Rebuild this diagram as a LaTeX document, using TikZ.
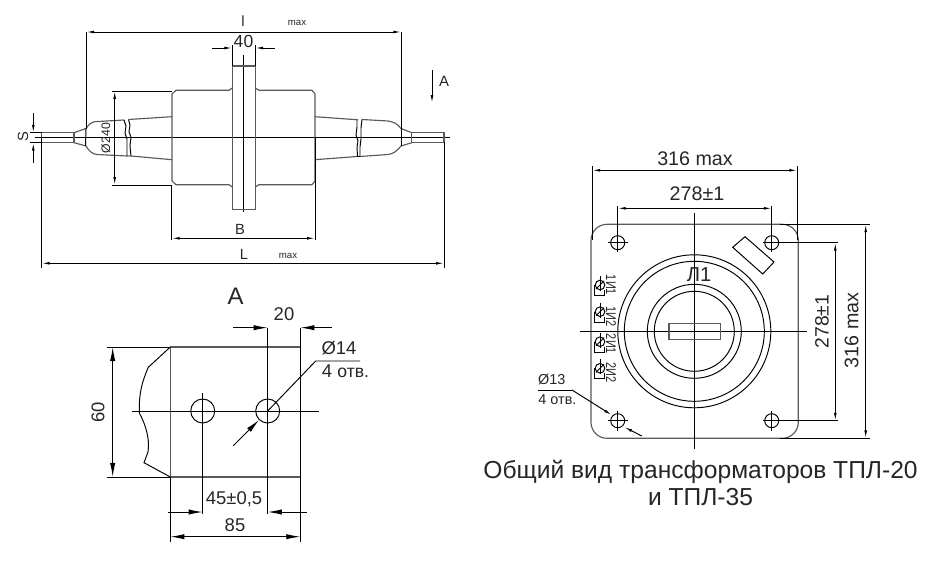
\documentclass[tikz,border=0pt]{standalone}
\usepackage{fontspec}
\setmainfont{Liberation Sans}
\usetikzlibrary{arrows.meta}
\newcommand{\fsz}[1]{\fontsize{#1}{#1}\selectfont}
\tikzset{
  thin line/.style={line width=0.55pt},
  outline/.style={line width=0.65pt,draw=black!65},
  small tip/.style={-{Latex[length=4.5pt,width=1.6pt]}},
  small both/.style={{Latex[length=4.5pt,width=1.6pt]}-{Latex[length=4.5pt,width=1.6pt]}},
  big tip/.style={-{Latex[length=8pt,width=3pt]}},
  big both/.style={{Latex[length=8pt,width=3pt]}-{Latex[length=8pt,width=3pt]}},
  lbl/.style={inner sep=0pt,text=black!85},
}
\begin{document}
\begin{tikzpicture}[x=0.02cm,y=-0.02cm,thin line]
\useasboundingbox (0,0) rectangle (935,567);

% top view
\draw (35,137) -- (450,137);
\draw (243.3,55) -- (243.3,212);
\draw[outline] (232.3,66) rectangle (255.3,209.3);
\draw[outline] (232.3,88) -- (229,90.3) -- (176,90.3) -- (172,94) -- (172,181) -- (176,184.7) -- (229,184.7) -- (232.3,187);
\draw[outline] (255.3,88) -- (259,90.3) -- (312,90.3) -- (315,94) -- (315,181) -- (312,184.7) -- (259,184.7) -- (255.3,187);
% left end
\draw[outline] (41.7,132.7) rectangle (74,142.7);
\draw[outline] (74,132.7) -- (86,128.5) .. controls (89,124) and (92,122) .. (95,121.7) -- (124,120);
\draw[outline] (74,142.7) -- (86,146) .. controls (89,151) and (92,154) .. (97,154.5) -- (127,156);
\draw (86,128.5) -- (85.5,146);
\draw (124,120) -- (126,126) -- (125,133) -- (127,139) -- (127,145) -- (127,156) -- (131,156);
\draw (128.5,119.5) -- (130,125) -- (129,132) -- (131,137) -- (130,146) -- (131,156);
\draw[outline] (128.5,119.5) -- (172,116.7);
\draw[outline] (131,156) -- (172,159.7);
% right end
\draw[outline] (411.7,132.7) rectangle (444,142.7);
\draw[outline] (411.7,132.7) -- (401,128.5) .. controls (397,123) and (393,122) .. (388,121) -- (362,119.5);
\draw[outline] (411.7,142.7) -- (401,146) .. controls (397,151) and (393,154) .. (388,154.5) -- (360,156.5);
\draw (401,128.5) -- (401,146);
\draw (357,120) -- (357,127) -- (356,135) -- (358,141) -- (357,147) -- (357.5,156.5) -- (360,156.5);
\draw (362,119.5) -- (361,128) -- (361,139) -- (360,147) -- (360,156.5);
\draw[outline] (315,116.7) -- (358,119.8);
\draw[outline] (315,159.7) -- (357,156.5);

% top view dimensions
\draw (86.3,32) -- (86.3,129);
\draw (401.3,32) -- (401.3,129);
\draw[small both] (86.3,32) -- (401.3,32);
\node[lbl,font=\fsz{8.4}] (lLabel) at (243,21.5) {l};
\node[lbl,font=\fsz{5.5}] (lMax) at (297,22.5) {max};
\draw (232.3,45) -- (232.3,66);
\draw (255.3,45) -- (255.3,66);
\draw[small tip] (212,48) -- (232.3,48);
\draw[small tip] (275,48) -- (255.3,48);
\node[lbl,font=\fsz{10}] (wFlange) at (243.5,41) {40};
\draw[small tip] (432,70) -- (432,103);
\node[lbl,font=\fsz{8.5}] (viewA) at (444,81) {A};
\draw (30,132.7) -- (42,132.7);
\draw (30,142.7) -- (42,142.7);
\draw[small tip] (33.3,113) -- (33.3,132.7);
\draw[small tip] (33.3,163) -- (33.3,142.7);
\node[lbl,rotate=90,font=\fsz{8.4}] (sLabel) at (23,137) {S};
\draw (112,91) -- (172,91);
\draw (112,185) -- (172,185);
\draw[small both] (114.7,91) -- (114.7,185);
\node[lbl,rotate=90,font=\fsz{7}] (dBody) at (106,138) {Ø240};
\draw (171.7,185) -- (171.7,240);
\draw (315,137) -- (315,240);
\draw[small both] (171.7,238.3) -- (315,238.3);
\node[lbl,font=\fsz{8.4}] (bLabel) at (240,229) {B};
\draw (41.7,137) -- (41.7,268);
\draw (444,142) -- (444,268);
\draw[small both] (41.7,263.3) -- (444,263.3);
\node[lbl,font=\fsz{8.4}] (bigL) at (244,254) {L};
\node[lbl,font=\fsz{5.5}] (bigLMax) at (288,256) {max};

% view A
\node[lbl,font=\fsz{13.6}] (viewTitle) at (235.7,296) {A};
\draw[outline] (170.3,347) -- (300.3,347) -- (300.3,477) -- (170.3,477) -- cycle;
\draw (170.3,347) -- (148.3,367.3) .. controls (142,382) and (139,392) .. (139.3,413)
  .. controls (146,425) and (150,440) .. (148,452) -- (144,462.7) -- (170.3,477);
\draw (132,411) -- (319,411);
\draw (202.7,393) -- (202.7,514);
\draw (267.7,327.7) -- (267.7,514);
\draw (300.3,327.7) -- (300.3,542);
\draw (170.3,477) -- (170.3,542);
\foreach \hx in {202.7,267.7}
  \draw (\hx,411) circle (12);
\draw (106.7,347) -- (170,347);
\draw (106.7,477) -- (170,477);
\draw[big both] (112.7,347) -- (112.7,477);
\node[lbl,rotate=90,font=\fsz{10.5}] (hBar) at (98,412) {60};
\draw[big tip] (233,327.7) -- (267.7,327.7);
\draw[big tip] (331.7,327.7) -- (300.3,327.7);
\node[lbl,font=\fsz{10.5}] (wEdge) at (284,314.5) {20};
\draw[big tip] (168,512) -- (202.7,512);
\draw[big tip] (306.7,512) -- (267.7,512);
\node[lbl,font=\fsz{10.5}] (pitch) at (234,499.5) {45±0,5};
\draw[big both] (170.3,536.7) -- (300.3,536.7);
\node[lbl,font=\fsz{10.5}] (wBar) at (235,525) {85};
\draw (267.7,411) -- (315.7,361) -- (360,361);
\draw[big tip] (233.3,445.7) -- (259,420);
\node[lbl,font=\fsz{10.5}] (dHole) at (339,348.5) {Ø14};
\node[lbl,font=\fsz{10.5},anchor=west] (nHole) at (321.5,371) {4 {\fsz{10}отв.}};

% front view
\draw[outline,rounded corners=0.32cm] (591,224.3) rectangle (798.3,438.3);
\draw (694.3,212.7) -- (694.3,449.3);
\draw (580,331.3) -- (807.3,331.3);
\foreach \rr in {76.5,70,47,40}
  \draw (694.3,331.3) circle (\rr);
\draw[outline] (669,323.7) rectangle (720.7,339.3);
\draw (745,236.7) -- (732.7,247.3) -- (762.7,274) -- (774,262) -- cycle;
\foreach \hx in {617.7,771.7}
  \foreach \hy in {242.7,420.7}
    \draw (\hx,\hy) circle (7);
\draw (617.7,206) -- (617.7,252);
\draw (771.7,206) -- (771.7,252);
\draw (617.7,411) -- (617.7,431);
\draw (771.7,411) -- (771.7,431);
\draw (608,242.7) -- (628,242.7);
\draw (608,420.7) -- (628,420.7);
\draw (762.7,242.7) -- (837.7,242.7);
\draw (762.7,420.7) -- (837.7,420.7);
\draw (780,224.3) -- (870,224.3);
\draw (780,438.3) -- (870,438.3);
\draw (592.3,166) -- (592.3,240);
\draw (797.3,166) -- (797.3,240);
\draw[small both] (592.3,170.3) -- (797.3,170.3);
\node[lbl,font=\fsz{11.2}] (wPlate) at (695,158.5) {316 max};
\draw[small both] (617.7,208.3) -- (771.7,208.3);
\node[lbl,font=\fsz{11.2}] (wHoles) at (697,193.5) {278±1};
\draw[small both] (835.3,242.7) -- (835.3,420.7);
\node[lbl,rotate=90,font=\fsz{11}] (hHoles) at (822,321.5) {278±1};
\draw[small both] (865.7,224.3) -- (865.7,438.3);
\node[lbl,rotate=90,font=\fsz{11.2}] (hPlate) at (851.5,330.5) {316 max};
\node[lbl,font=\fsz{11.5}] (primary) at (699,274.5) {Л1};
% terminals
\foreach \ty/\tl/\tt in {285/1И1/285,311.7/1И2/316.7,341.7/2И1/344,368.3/2И2/372.7} {
  \draw (600,\ty) circle (4.8);
  \draw (600,\ty-9) -- (600,\ty+6);
  \draw (596,\ty+4) -- (604,\ty-4);
  \draw (594.5,\ty) -- (594.5,\ty+10.5) -- (604.5,\ty+10.5) -- (604.5,\ty+5);
  \node[lbl,rotate=-90,font=\fsz{8}] at (611,\tt) {\scalebox{0.78}[1]{\tl}};
}
% mounting hole note
\coordinate (noteEnd) at (572,390);
\draw (538,390) -- (noteEnd);
\draw[small tip] (noteEnd) -- (611.7,415);
\draw[small tip] (641.7,436) -- (624.3,427);
\node[lbl,font=\fsz{8.2}] (dMount) at (551.7,380) {Ø13};
\node[lbl,font=\fsz{8.2},anchor=west] (nMount) at (538,399.5) {4 {\fsz{8.2}отв.}};

\node[lbl,font=\fsz{14}] (capOne) at (700.5,472) {Общий вид трансформаторов ТПЛ-20};
\node[lbl,font=\fsz{14}] (capTwo) at (700.5,497) {и ТПЛ-35};
\end{tikzpicture}
\end{document}
